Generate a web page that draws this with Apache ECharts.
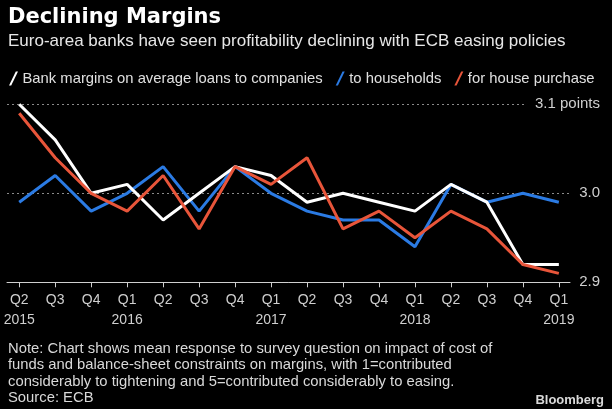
<!DOCTYPE html>
<html><head><meta charset="utf-8">
<script src="https://cdn.jsdelivr.net/npm/echarts@6/dist/echarts.min.js"></script>
<style>html,body{margin:0;padding:0;background:#000;}#c{width:612px;height:409px;}</style>
</head><body><div id="c"></div>
<script>
const quarters = ['Q2','Q3','Q4','Q1','Q2','Q3','Q4','Q1','Q2','Q3','Q4','Q1','Q2','Q3','Q4','Q1'];
const years    = ['2015','','','2016','','','','2017','','','','2018','','','','2019'];
const companies  = [3.10,3.06,3.00,3.01,2.97,3.00,3.03,3.02,2.99,3.00,2.99,2.98,3.01,2.99,2.92,2.92];
const households = [2.99,3.02,2.98,3.00,3.03,2.98,3.03,3.00,2.98,2.97,2.97,2.94,3.01,2.99,3.00,2.99];
const housePurch = [3.09,3.04,3.00,2.98,3.02,2.96,3.03,3.01,3.04,2.96,2.98,2.95,2.98,2.96,2.92,2.91];
const yTicks = [2.9, 3.0, 3.1];
const seriesNames = ['Bank margins on average loans to companies','to households','for house purchase'];

const idx = quarters.map((_, i) => i);
const pts = arr => arr.map((v, i) => [i, v]);
const font = '"Liberation Sans", Arial, sans-serif';
const slash = 'path://M0,14 L2.2,14 L9,0 L6.8,0 Z';

const chart = echarts.init(document.getElementById('c'), null, {renderer:'canvas'});
chart.setOption({
  backgroundColor: '#000',
  animation: false,
  title: [
    {text: 'Declining Margins', subtext: 'Euro-area banks have seen profitability declining with ECB easing policies',
     left: 3, top: 2, itemGap: 5,
     textStyle: {color:'#fff', fontSize: 21, fontWeight:'bold', fontFamily: '"DejaVu Sans", sans-serif'},
     subtextStyle: {color:'#e6e6e6', fontSize: 17, fontFamily: font}},
    {text: 'Note: Chart shows mean response to survey question on impact of cost of\nfunds and balance-sheet constraints on margins, with 1=contributed\nconsiderably to tightening and 5=contributed considerably to easing.\nSource: ECB',
     left: 3, top: 336,
     textStyle: {color:'#d9d9d9', fontSize: 14.8, fontWeight:'normal', lineHeight: 16.2, fontFamily: font}},
    {text: 'Bloomberg', right: 3, top: 389,
     textStyle: {color:'#d9d9d9', fontSize: 13, fontWeight:'bold', fontFamily: font}}
  ],
  legend: {
    left: 4, top: 66, itemWidth: 12, itemHeight: 14, itemGap: 13,
    data: seriesNames.map(n => ({name: n, icon: slash})),
    textStyle: {color:'#e0e0e0', fontSize: 14.8, fontFamily: font, padding:[0,0,0,-2]}
  },
  grid: {left: 7, right: 42, top: 104.3, bottom: 126.7, containLabel: false},
  xAxis: {
    type: 'value', min: -0.34, max: 15.31,
    splitLine: {show: false},
    axisLine: {show: true, onZero: false, lineStyle: {color:'#cfcfcf', width: 1}},
    axisTick: {show: true, customValues: idx, length: 5, lineStyle: {color:'#cfcfcf'}},
    axisLabel: {show: true, customValues: idx, color:'#cfcfcf', fontSize: 14, fontFamily: font, lineHeight: 20, margin: 8,
      formatter: v => { const i = Math.round(v); return quarters[i] + (years[i] ? '\n' + years[i] : ''); }}
  },
  yAxis: {
    type: 'value', position: 'right', min: 2.9, max: 3.1, interval: 0.1,
    axisLine: {show: false}, axisTick: {show: false},
    splitLine: {show: true, lineStyle: {color:'#8a8a8a', type: [2,3], width: 1}},
    axisLabel: {show: true, customValues: yTicks, color:'#cfcfcf', fontSize: 15, fontFamily: font,
      align: 'right', margin: 30, backgroundColor: '#000', padding: [2, 0, 2, 8],
      formatter: v => Math.abs(v - 3.1) < 1e-6 ? '3.1 points' : v.toFixed(1)}
  },
  series: [
    {name: seriesNames[1], type:'line', data: pts(households), z: 2, clip: false, symbol:'none', color:'#2b7be4', lineStyle:{width:3, color:'#2b7be4'}},
    {name: seriesNames[0], type:'line', data: pts(companies), z: 3, clip: false, symbol:'none', color:'#ffffff', lineStyle:{width:3, color:'#ffffff'}},
    {name: seriesNames[2], type:'line', data: pts(housePurch), z: 4, clip: false, symbol:'none', color:'#e8553a', lineStyle:{width:3, color:'#e8553a'}}
  ]
});
</script></body></html>
